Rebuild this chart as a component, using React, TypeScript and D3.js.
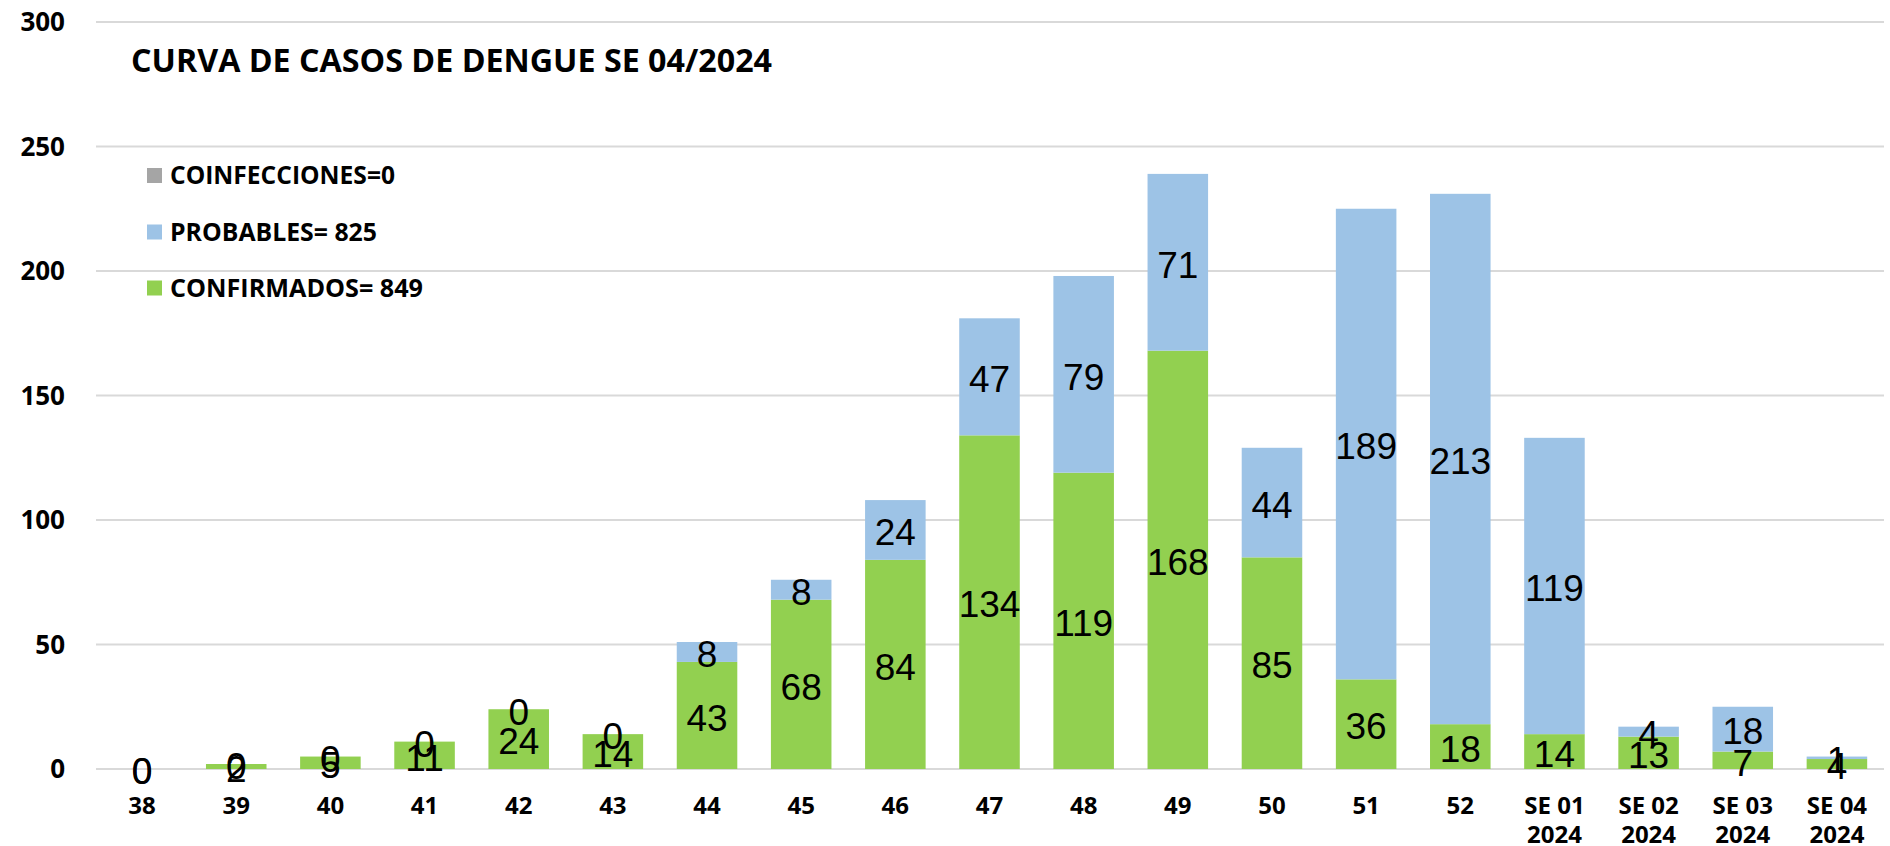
import React from "react";
import * as d3 from "d3";

const categories = ["38","39","40","41","42","43","44","45","46","47","48","49","50","51","52","SE 01\n2024","SE 02\n2024","SE 03\n2024","SE 04\n2024"];
const confirmados = [0,2,5,11,24,14,43,68,84,134,119,168,85,36,18,14,13,7,4];
const probables = [0,0,0,0,0,0,8,8,24,47,79,71,44,189,213,119,4,18,1];
const coinfecciones = [0,0,0,0,0,0,0,0,0,0,0,0,0,0,0,0,0,0,0];
const yTicks = [0,50,100,150,200,250,300];
const title = "CURVA DE CASOS DE DENGUE SE 04/2024";
const legendItems = [
  { label: "COINFECCIONES=0", color: "#a5a5a5", width: 225 },
  { label: "PROBABLES= 825", color: "#9dc3e6", width: 207 },
  { label: "CONFIRMADOS= 849", color: "#92d050", width: 253 },
];

const seriesKeys = ["confirmados", "probables", "coinfecciones"];
const seriesColors: Record<string, string> = {
  confirmados: "#92d050",
  probables: "#9dc3e6",
  coinfecciones: "#a5a5a5",
};
const labeled: Record<string, boolean> = { confirmados: true, probables: true, coinfecciones: false };

export default function App() {
  const W = 1890, H = 846;
  const rows = categories.map((c, i) => ({
    cat: c,
    confirmados: confirmados[i],
    probables: probables[i],
    coinfecciones: coinfecciones[i],
  }));
  const x = d3.scaleBand<string>().domain(categories).range([95, 1884]).paddingInner(0.357).paddingOuter(0.1785);
  const y = d3.scaleLinear().domain([0, 300]).range([769, 22]);
  const stacked = d3.stack<any>().keys(seriesKeys)(rows);
  const bold = "'Open Sans', sans-serif";

  return (
    <svg width={W} height={H} style={{ position: "absolute", left: 0, top: 0, background: "#fff" }}>
      {yTicks.map((t) => (
        <g key={t}>
          <line x1={96} x2={1884} y1={y(t)} y2={y(t)} stroke="#d9d9d9" strokeWidth={2} />
          <text x={65} y={y(t) + 9} textAnchor="end" fontFamily={bold} fontWeight="bold" fontSize={26} fill="#000">{t}</text>
        </g>
      ))}
      {stacked.map((s) => (
        <g key={s.key}>
          {s.map((d, i) => (
            <rect key={i} x={x(categories[i])} width={x.bandwidth()} y={y(d[1])} height={Math.max(0, y(d[0]) - y(d[1]))} fill={seriesColors[s.key]} />
          ))}
        </g>
      ))}
      {stacked.filter((s) => labeled[s.key]).map((s) => (
        <g key={"l" + s.key}>
          {s.map((d, i) => (
            <text key={i} x={(x(categories[i]) as number) + x.bandwidth() / 2} y={y((d[0] + d[1]) / 2) + 15.3} textAnchor="middle" fontFamily="'Liberation Sans', Arial, sans-serif" fontSize={37} fill="#000">
              {d[1] - d[0]}
            </text>
          ))}
        </g>
      ))}
      {categories.map((c) => {
        const lines = c.split("\n");
        const cx = (x(c) as number) + x.bandwidth() / 2;
        return (
          <text key={c} x={cx} textAnchor="middle" fontFamily={bold} fontWeight="bold" fontSize={24} fill="#000">
            {lines.map((ln, k) => (
              <tspan key={k} x={cx} y={813.5 + k * 29.5}>{ln}</tspan>
            ))}
          </text>
        );
      })}
      <text x={131} y={71.7} fontFamily={bold} fontWeight="bold" fontSize={32.5} fill="#000" textLength={641} lengthAdjust="spacingAndGlyphs">{title}</text>
      {legendItems.map((it, k) => {
        const cy = [175.5, 232, 288][k];
        return (
          <g key={it.label}>
            <rect x={147} y={cy - 7.5} width={15} height={15} fill={it.color} />
            <text x={170} y={cy + 8.8} fontFamily={bold} fontWeight="bold" fontSize={24.5} fill="#000" textLength={it.width} lengthAdjust="spacingAndGlyphs">{it.label}</text>
          </g>
        );
      })}
    </svg>
  );
}
